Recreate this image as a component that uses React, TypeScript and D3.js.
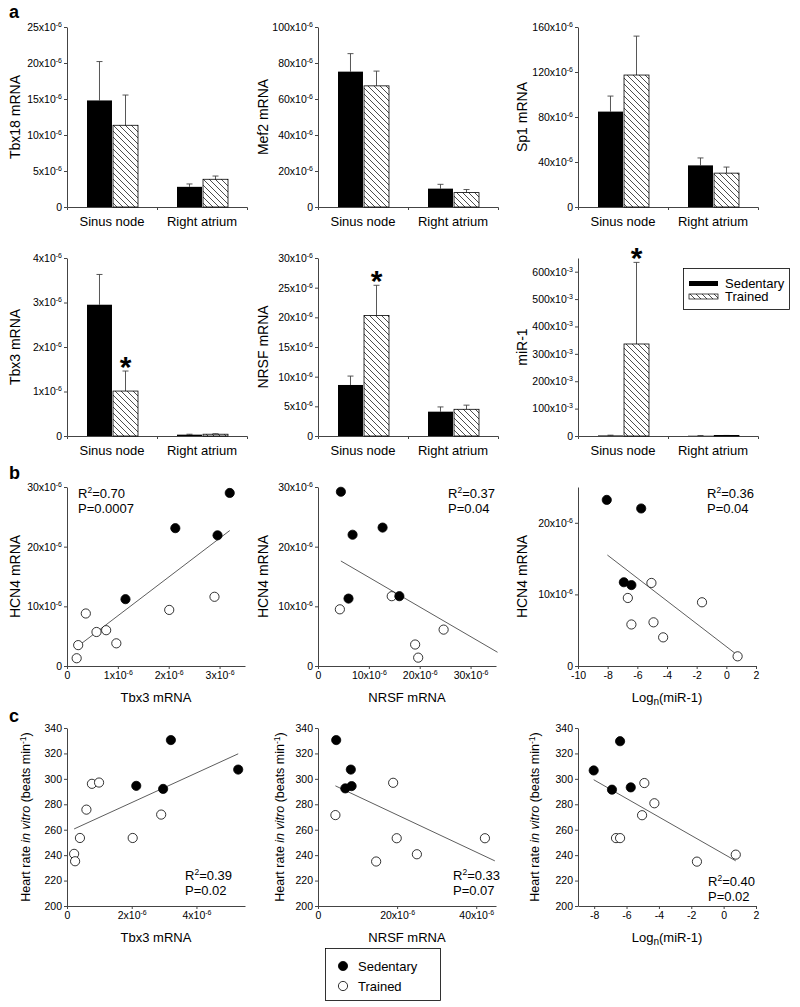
import React, { useEffect, useRef } from 'react'
import * as d3 from 'd3'

const FONT = '"Liberation Sans", Arial, Helvetica, sans-serif'
const AXIS = '#444'

const categories = ['Sinus node', 'Right atrium']
const groups = ['Sedentary', 'Trained']

// panel a: means and error (SEM), order [sinus node, right atrium]
const tbx18Sed = [14.8, 2.8]
const tbx18SedErr = [5.4, 0.4]
const tbx18Trn = [11.35, 3.85]
const tbx18TrnErr = [4.2, 0.45]
const tbx18Ticks = [0, 5, 10, 15, 20, 25]

const mef2Sed = [75.2, 10.2]
const mef2SedErr = [10.0, 2.4]
const mef2Trn = [67.3, 8.0]
const mef2TrnErr = [8.2, 1.7]
const mef2Ticks = [0, 20, 40, 60, 80, 100]

const sp1Sed = [84.8, 37.0]
const sp1SedErr = [13.8, 6.6]
const sp1Trn = [117.3, 30.1]
const sp1TrnErr = [34.6, 5.4]
const sp1Ticks = [0, 40, 80, 120, 160]

const tbx3Sed = [2.95, 0.03]
const tbx3SedErr = [0.68, 0.01]
const tbx3Trn = [1.01, 0.04]
const tbx3TrnErr = [0.45, 0.01]
const tbx3Ticks = [0, 1, 2, 3, 4]

const nrsfSed = [8.6, 4.1]
const nrsfSedErr = [1.5, 0.8]
const nrsfTrn = [20.3, 4.5]
const nrsfTrnErr = [5.1, 0.7]
const nrsfTicks = [0, 5, 10, 15, 20, 25, 30]

const mir1Sed = [2, 1]
const mir1SedErr = [1, 0.5]
const mir1Trn = [336, 1.5]
const mir1TrnErr = [298, 0.5]
const mir1Ticks = [0, 100, 200, 300, 400, 500, 600]

// panel b: HCN4 mRNA (x10^-6) against Tbx3, NRSF and log miR-1
const hcnTbx3SedX = [3.2, 2.13, 2.96, 1.15]
const hcnTbx3SedY = [29.0, 23.1, 21.9, 11.2]
const hcnTbx3TrnX = [0.37, 0.22, 0.19, 0.58, 0.77, 0.97, 2.01, 2.9]
const hcnTbx3TrnY = [8.8, 3.5, 1.3, 5.7, 6.0, 3.8, 9.4, 11.6]
const hcnTbx3Fit = [[0.22, 3.35], [3.2, 22.7]]

const hcnNrsfSedX = [4.5, 6.8, 12.7, 6.0, 16.0]
const hcnNrsfSedY = [29.2, 22.0, 23.2, 11.3, 11.7]
const hcnNrsfTrnX = [4.3, 14.5, 24.7, 19.1, 19.7]
const hcnNrsfTrnY = [9.5, 11.7, 6.1, 3.6, 1.4]
const hcnNrsfFit = [[4.5, 17.6], [35.3, 2.3]]

const hcnMirSedX = [-8.06, -5.74, -6.91, -6.4]
const hcnMirSedY = [23.2, 22.0, 11.7, 11.3]
const hcnMirTrnX = [-5.05, -6.64, -1.64, -6.4, -4.91, -4.26, 0.76]
const hcnMirTrnY = [11.6, 9.5, 8.9, 5.8, 6.1, 4.0, 1.35]
const hcnMirFit = [[-8.02, 15.5], [0.76, 1.5]]

// panel c: heart rate in vitro (beats/min)
const hrTbx3SedX = [3.21, 5.29, 2.14, 2.97]
const hrTbx3SedY = [330.5, 307.3, 294.5, 292.1]
const hrTbx3TrnX = [0.77, 0.99, 0.6, 2.91, 0.4, 2.03, 0.22, 0.25]
const hrTbx3TrnY = [296.1, 297.1, 275.8, 271.9, 253.5, 253.5, 241, 235.2]
const hrTbx3Fit = [[0.22, 260.6], [5.29, 319.7]]

const hrNrsfSedX = [4.6, 8.3, 6.9, 8.5]
const hrNrsfSedY = [330.5, 307.3, 292.5, 294.3]
const hrNrsfTrnX = [4.4, 19.0, 19.9, 14.7, 25.0, 42.2]
const hrNrsfTrnY = [271.5, 296.9, 253.3, 235.0, 240.7, 253.3]
const hrNrsfFit = [[4.4, 294.5], [44.7, 235.5]]

const hrMirSedX = [-8.03, -6.4, -6.9, -5.74]
const hrMirSedY = [306.6, 329.6, 291.5, 293.3]
const hrMirTrnX = [-4.9, -4.28, -5.04, -6.65, -6.4, -1.65, 0.75]
const hrMirTrnY = [296.7, 280.8, 271.4, 253.4, 253.4, 234.9, 240.4]
const hrMirFit = [[-8.03, 299.3], [0.75, 235.5]]

const hrTicks = [200, 220, 240, 260, 280, 300, 320, 340]

const sciLabel = (sel, v, exp) => {
  sel.text(null)
  if (v === 0 || exp === null) {
    sel.text(String(v))
    return
  }
  sel.append('tspan').text(`${v}x10`)
  sel.append('tspan').attr('dy', -4).attr('font-size', 7).text(exp)
}

const styleAxis = (g) => {
  g.attr('color', AXIS).attr('font-family', FONT).attr('font-size', 10.5)
  g.selectAll('text').attr('fill', '#000')
}

const drawBarPanel = (svg, p) => {
  const y = d3.scaleLinear().domain([0, p.max]).range([p.bottom, p.top])
  const x = d3.scaleBand().domain(categories).range([p.left, p.left + 180])
  const xg = d3.scaleBand().domain(groups).range([20, 71]).paddingInner(0.04)

  const ay = svg
    .append('g')
    .attr('transform', `translate(${p.left},0)`)
    .call(d3.axisLeft(y).tickValues(p.ticks).tickSize(3).tickSizeOuter(0).tickPadding(2))
  styleAxis(ay)
  ay.selectAll('.tick text').each(function (d) {
    sciLabel(d3.select(this), d, p.exp)
  })

  const ax = svg
    .append('g')
    .attr('transform', `translate(0,${p.bottom})`)
    .call(d3.axisBottom(x).tickSize(0).tickSizeOuter(3).tickPadding(10))
  styleAxis(ax)
  ax.selectAll('.tick text').attr('font-size', 13)
  ax.append('line')
    .attr('x1', x('Right atrium') + 0.5)
    .attr('x2', x('Right atrium') + 0.5)
    .attr('y1', 0)
    .attr('y2', 3)
    .attr('stroke', AXIS)

  const sets = [
    [p.sed, p.sedErr],
    [p.trn, p.trnErr],
  ]
  groups.forEach((grp, gi) => {
    categories.forEach((cat, ci) => {
      const v = sets[gi][0][ci]
      const e = sets[gi][1][ci]
      const bx = x(cat) + xg(grp)
      const bw = xg.bandwidth()
      const cx = bx + bw / 2
      svg.append('line')
        .attr('x1', cx).attr('x2', cx)
        .attr('y1', y(v)).attr('y2', y(v + e))
        .attr('stroke', AXIS).attr('stroke-width', 0.9)
      svg.append('line')
        .attr('x1', cx - 3).attr('x2', cx + 3)
        .attr('y1', y(v + e)).attr('y2', y(v + e))
        .attr('stroke', AXIS).attr('stroke-width', 0.9)
      svg.append('rect')
        .attr('x', bx)
        .attr('y', y(v))
        .attr('width', bw)
        .attr('height', y(0) - y(v))
        .attr('fill', gi === 0 ? '#000' : 'url(#hatch)')
        .attr('stroke', '#000')
        .attr('stroke-width', gi === 0 ? 0 : 0.8)
      if (p.stars && p.stars.some((s) => s[0] === gi && s[1] === ci)) {
        svg.append('text')
          .attr('x', cx)
          .attr('y', y(v + e) - 11 + 17)
          .attr('text-anchor', 'middle')
          .attr('font-family', FONT)
          .attr('font-weight', 'bold')
          .attr('font-size', 30)
          .text('*')
      }
    })
  })

  svg.append('text')
    .attr('transform', `translate(${p.titleX},${(p.top + p.bottom) / 2}) rotate(-90)`)
    .attr('dy', '0.35em')
    .attr('text-anchor', 'middle')
    .attr('font-family', FONT)
    .attr('font-size', 14)
    .text(p.title)
}

const drawScatter = (svg, p) => {
  const x = d3.scaleLinear().domain(p.xDomain).range([p.left, p.left + 178])
  const y = d3.scaleLinear().domain(p.yDomain).range([p.bottom, p.top])

  const ay = svg
    .append('g')
    .attr('transform', `translate(${p.left},0)`)
    .call(d3.axisLeft(y).tickValues(p.yTicks).tickSize(3).tickSizeOuter(0).tickPadding(2))
  styleAxis(ay)
  ay.selectAll('.tick text').each(function (d) {
    sciLabel(d3.select(this), d, p.yExp)
  })

  const ax = svg
    .append('g')
    .attr('transform', `translate(0,${p.bottom})`)
    .call(d3.axisBottom(x).tickValues(p.xTicks).tickSize(3).tickSizeOuter(0).tickPadding(3))
  styleAxis(ax)
  ax.selectAll('.tick text').each(function (d) {
    sciLabel(d3.select(this), d, p.xExp)
  })

  svg.append('line')
    .attr('x1', x(p.fit[0][0])).attr('y1', y(p.fit[0][1]))
    .attr('x2', x(p.fit[1][0])).attr('y2', y(p.fit[1][1]))
    .attr('stroke', '#333').attr('stroke-width', 0.8)

  const trn = p.trnX.map((v, i) => [v, p.trnY[i]])
  const sed = p.sedX.map((v, i) => [v, p.sedY[i]])
  svg.append('g').selectAll('circle').data(trn).enter().append('circle')
    .attr('cx', (d) => x(d[0])).attr('cy', (d) => y(d[1])).attr('r', 4.6)
    .attr('fill', '#fff').attr('stroke', '#000').attr('stroke-width', 0.8)
  svg.append('g').selectAll('circle').data(sed).enter().append('circle')
    .attr('cx', (d) => x(d[0])).attr('cy', (d) => y(d[1])).attr('r', 4.6)
    .attr('fill', '#000').attr('stroke', '#000').attr('stroke-width', 0.8)

  const st = svg.append('text')
    .attr('x', p.left + p.statX)
    .attr('y', p.statY)
    .attr('font-family', FONT)
    .attr('font-size', 13)
  st.append('tspan').text('R')
  st.append('tspan').attr('dy', -5).attr('font-size', 8.5).text('2')
  st.append('tspan').attr('dy', 5).text(`=${p.r2}`)
  svg.append('text')
    .attr('x', p.left + p.statX)
    .attr('y', p.statY + 15)
    .attr('font-family', FONT)
    .attr('font-size', 13)
    .text(`P=${p.pv}`)

  const xt = svg.append('text')
    .attr('x', p.left + 89)
    .attr('y', p.bottom + 36)
    .attr('text-anchor', 'middle')
    .attr('font-family', FONT)
    .attr('font-size', 13)
  if (p.xTitle === 'log') {
    xt.append('tspan').text('Log')
    xt.append('tspan').attr('dy', 3).attr('font-size', 10).text('n')
    xt.append('tspan').attr('dy', -3).text('(miR-1)')
  } else {
    xt.text(p.xTitle)
  }

  const yt = svg.append('text')
    .attr('transform', `translate(${p.titleX},${(p.top + p.bottom) / 2}) rotate(-90)`)
    .attr('dy', '0.35em')
    .attr('text-anchor', 'middle')
    .attr('font-family', FONT)
  if (p.yTitle === 'hr') {
    yt.attr('font-size', 12.5)
    yt.append('tspan').text('Heart rate ')
    yt.append('tspan').attr('font-style', 'italic').text('in vitro')
    yt.append('tspan').text(' (beats min')
    yt.append('tspan').attr('dy', -4).attr('font-size', 8.5).text('-1')
    yt.append('tspan').attr('dy', 4).text(')')
  } else {
    yt.attr('font-size', 14).text(p.yTitle)
  }
}

const FigureChart = () => {
  const svgRef = useRef()

  useEffect(() => {
    const svg = d3.select(svgRef.current)
    svg.selectAll('*').remove()

    const pat = svg.append('defs').append('pattern')
      .attr('id', 'hatch')
      .attr('patternUnits', 'userSpaceOnUse')
      .attr('width', 6)
      .attr('height', 6)
    pat.append('rect').attr('width', 6).attr('height', 6).attr('fill', '#fff')
    pat.append('path')
      .attr('d', 'M-1,-1L7,7M-1,5L1,7M5,-1L7,1')
      .attr('stroke', '#000')
      .attr('stroke-width', 0.7)

    const cols = [67, 318, 578]
    const titleCols = [15, 263, 522]
    const rowA1 = { top: 27, bottom: 207 }
    const rowA2 = { top: 258, bottom: 436 }

    const barPanels = [
      { ...rowA1, left: cols[0], titleX: titleCols[0], max: 25, ticks: tbx18Ticks, exp: '-6', title: 'Tbx18 mRNA', sed: tbx18Sed, sedErr: tbx18SedErr, trn: tbx18Trn, trnErr: tbx18TrnErr },
      { ...rowA1, left: cols[1], titleX: titleCols[1], max: 100, ticks: mef2Ticks, exp: '-6', title: 'Mef2 mRNA', sed: mef2Sed, sedErr: mef2SedErr, trn: mef2Trn, trnErr: mef2TrnErr },
      { ...rowA1, left: cols[2], titleX: titleCols[2], max: 160, ticks: sp1Ticks, exp: '-6', title: 'Sp1 mRNA', sed: sp1Sed, sedErr: sp1SedErr, trn: sp1Trn, trnErr: sp1TrnErr },
      { ...rowA2, left: cols[0], titleX: titleCols[0], max: 4, ticks: tbx3Ticks, exp: '-6', title: 'Tbx3 mRNA', sed: tbx3Sed, sedErr: tbx3SedErr, trn: tbx3Trn, trnErr: tbx3TrnErr, stars: [[1, 0]] },
      { ...rowA2, left: cols[1], titleX: titleCols[1], max: 30, ticks: nrsfTicks, exp: '-6', title: 'NRSF mRNA', sed: nrsfSed, sedErr: nrsfSedErr, trn: nrsfTrn, trnErr: nrsfTrnErr, stars: [[1, 0]] },
      { ...rowA2, left: cols[2], titleX: titleCols[2], max: 650, ticks: mir1Ticks, exp: '-3', title: 'miR-1', sed: mir1Sed, sedErr: mir1SedErr, trn: mir1Trn, trnErr: mir1TrnErr, stars: [[1, 0]] },
    ]
    barPanels.forEach((p) => drawBarPanel(svg, p))

    // bar legend
    const lg = svg.append('g').attr('font-family', FONT).attr('font-size', 13)
    lg.append('rect').attr('x', 683.5).attr('y', 268.5).attr('width', 106).attr('height', 41)
      .attr('fill', '#fff').attr('stroke', '#000').attr('stroke-width', 0.8)
    groups.forEach((g, i) => {
      lg.append('rect').attr('x', 689).attr('y', 281 + i * 13).attr('width', 29).attr('height', 5)
        .attr('fill', i === 0 ? '#000' : 'url(#hatch)').attr('stroke', '#000').attr('stroke-width', i === 0 ? 0 : 0.7)
      lg.append('text').attr('x', 725).attr('y', 283.5 + i * 13).attr('dy', '0.35em').text(g)
    })

    const rowB = { top: 487, bottom: 666, yDomain: [0, 30], yTicks: [0, 10, 20, 30], yExp: '-6', yTitle: 'HCN4 mRNA' }
    const rowC = { top: 728, bottom: 906, yDomain: [200, 340], yTicks: hrTicks, yExp: null, yTitle: 'hr' }

    const scatterPanels = [
      { ...rowB, left: cols[0], titleX: 15, xDomain: [0, 3.5], xTicks: [0, 1, 2, 3], xExp: '-6', xTitle: 'Tbx3 mRNA',
        sedX: hcnTbx3SedX, sedY: hcnTbx3SedY, trnX: hcnTbx3TrnX, trnY: hcnTbx3TrnY, fit: hcnTbx3Fit,
        r2: '0.70', pv: '0.0007', statX: 11, statY: 498 },
      { ...rowB, left: cols[1], titleX: 263, xDomain: [0, 35], xTicks: [0, 10, 20, 30], xExp: '-6', xTitle: 'NRSF mRNA',
        sedX: hcnNrsfSedX, sedY: hcnNrsfSedY, trnX: hcnNrsfTrnX, trnY: hcnNrsfTrnY, fit: hcnNrsfFit,
        r2: '0.37', pv: '0.04', statX: 130, statY: 498 },
      { ...rowB, left: cols[2], titleX: 522, yDomain: [0, 25], yTicks: [0, 10, 20], xDomain: [-10, 2], xTicks: [-10, -8, -6, -4, -2, 0, 2], xExp: null, xTitle: 'log',
        sedX: hcnMirSedX, sedY: hcnMirSedY, trnX: hcnMirTrnX, trnY: hcnMirTrnY, fit: hcnMirFit,
        r2: '0.36', pv: '0.04', statX: 129, statY: 498 },
      { ...rowC, left: cols[0], titleX: 26, xDomain: [0, 5.5], xTicks: [0, 2, 4], xExp: '-6', xTitle: 'Tbx3 mRNA',
        sedX: hrTbx3SedX, sedY: hrTbx3SedY, trnX: hrTbx3TrnX, trnY: hrTbx3TrnY, fit: hrTbx3Fit,
        r2: '0.39', pv: '0.02', statX: 118, statY: 880 },
      { ...rowC, left: cols[1], titleX: 280, xDomain: [0, 45], xTicks: [0, 20, 40], xExp: '-6', xTitle: 'NRSF mRNA',
        sedX: hrNrsfSedX, sedY: hrNrsfSedY, trnX: hrNrsfTrnX, trnY: hrNrsfTrnY, fit: hrNrsfFit,
        r2: '0.33', pv: '0.07', statX: 135, statY: 880 },
      { ...rowC, left: cols[2], titleX: 535, xDomain: [-9, 2], xTicks: [-8, -6, -4, -2, 0, 2], xExp: null, xTitle: 'log',
        sedX: hrMirSedX, sedY: hrMirSedY, trnX: hrMirTrnX, trnY: hrMirTrnY, fit: hrMirFit,
        r2: '0.40', pv: '0.02', statX: 130, statY: 886 },
    ]
    scatterPanels.forEach((p) => drawScatter(svg, p))

    // panel letters
    const letters = [['a', 18], ['b', 479], ['c', 722]]
    letters.forEach(([l, yy]) => {
      svg.append('text').attr('x', 9).attr('y', yy)
        .attr('font-family', FONT).attr('font-weight', 'bold').attr('font-size', 18).text(l)
    })

    // scatter legend
    const sl = svg.append('g').attr('font-family', FONT).attr('font-size', 13)
    sl.append('rect').attr('x', 325.5).attr('y', 948.5).attr('width', 115).attr('height', 52)
      .attr('fill', '#fff').attr('stroke', '#000').attr('stroke-width', 0.8)
    groups.forEach((g, i) => {
      sl.append('circle').attr('cx', 343).attr('cy', 966 + i * 20).attr('r', 4.6)
        .attr('fill', i === 0 ? '#000' : '#fff').attr('stroke', '#000').attr('stroke-width', 0.8)
      sl.append('text').attr('x', 358).attr('y', 966 + i * 20).attr('dy', '0.35em').text(g)
    })
  }, [])

  return (
    <svg
      ref={svgRef}
      width={800}
      height={1007}
      style={{ position: 'absolute', left: 0, top: 0, background: '#fff' }}
    ></svg>
  )
}

export default function App() {
  return <FigureChart />
}
